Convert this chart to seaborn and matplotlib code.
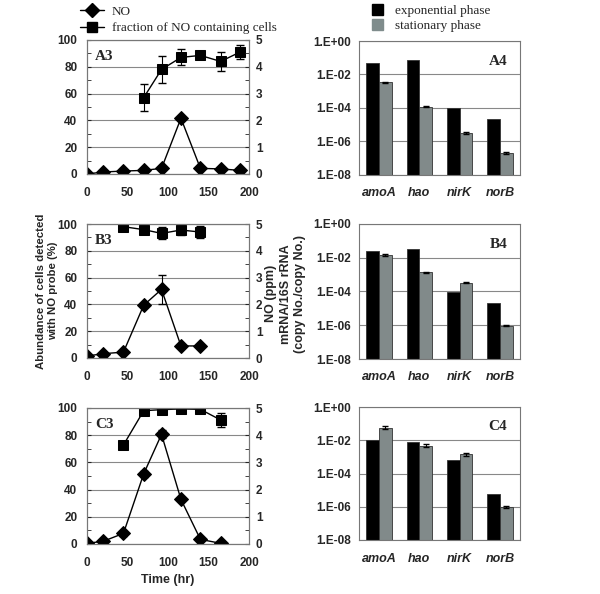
import numpy as np
import pandas as pd
import seaborn as sns
import matplotlib.pyplot as plt
from matplotlib.ticker import MultipleLocator, LogLocator, NullFormatter

# time courses (hr); squares = % cells with NO probe (left axis), diamonds = NO ppm (right axis)
a3_time_no = [0, 20, 45, 70, 92, 116, 140, 165, 189]
a3_no = [0.0, 0.075, 0.11, 0.135, 0.21, 2.08, 0.21, 0.19, 0.135]
a3_no_err = [0, 0, 0, 0, 0, 0.06, 0, 0, 0]
a3_time_frac = [70, 92, 116, 140, 165, 189]
a3_frac = [57, 78, 87, 88.5, 84, 91]
a3_frac_err = [10, 10, 6, 2, 7, 5]

b3_time_no = [0, 20, 45, 70, 92, 116, 140]
b3_no = [0.075, 0.16, 0.22, 1.97, 2.56, 0.45, 0.45]
b3_no_err = [0, 0, 0, 0.06, 0.55, 0, 0]
b3_time_frac = [45, 70, 92, 116, 140]
b3_frac = [98, 95.8, 93, 95.5, 94]
b3_frac_err = [0, 1, 4.5, 3.5, 4.5]

c3_time_no = [0, 20, 45, 70, 92, 116, 140, 165]
c3_no = [0.025, 0.1, 0.39, 2.58, 4.03, 1.64, 0.17, 0.025]
c3_no_err = [0, 0, 0.1, 0.1, 0.15, 0, 0, 0]
c3_time_frac = [45, 70, 92, 116, 140, 165]
c3_frac = [72.8, 98, 98.8, 99.3, 99, 91.2]
c3_frac_err = [0, 0, 0, 0, 0, 5]

# gene expression, mRNA/16S rRNA
genes = ['amoA', 'hao', 'nirK', 'norB']
phases = ['exponential phase', 'stationary phase']
a4_exp = [5.0e-2, 7.8e-2, 1.0e-4, 2.3e-5]
a4_stat = [3.5e-3, 1.2e-4, 3.3e-6, 2.1e-7]
a4_stat_err = [2e-4, 5e-6, 4e-7, 3e-8]
b4_exp = [2.6e-2, 3.3e-2, 9.5e-5, 2.2e-5]
b4_stat = [1.5e-2, 1.35e-3, 3.4e-4, 9.5e-7]
b4_stat_err = [1.5e-3, 1e-4, 1e-5, 3e-8]
c4_exp = [1.1e-2, 8.0e-3, 6.9e-4, 5.8e-6]
c4_stat = [5.8e-2, 4.8e-3, 1.45e-3, 1.0e-6]
c4_stat_err = [1.2e-2, 8e-4, 2.5e-4, 1.5e-7]

sns.set_style('white')
plt.rcParams['font.family'] = ['Liberation Sans', 'DejaVu Sans']

fig = plt.figure(figsize=(6, 5.94), dpi=100)
H = 594.0


def box(x0, y0, x1, y1):
    return [x0 / 600, 1 - y1 / H, (x1 - x0) / 600, (y1 - y0) / H]


def px(x, y):
    return x / 600, 1 - y / H


serif = ['Liberation Serif', 'DejaVu Serif']


def time_panel(rect, label, t_no, no, no_err, t_fr, fr, fr_err):
    ax = fig.add_axes(rect)
    ax2 = ax.twinx()
    sns.lineplot(x=t_fr, y=fr, ax=ax, color='black', marker='s', markersize=7,
                 linewidth=1, markeredgecolor='black')
    ax.errorbar(t_fr, fr, yerr=fr_err, fmt='none', ecolor='black', elinewidth=0.8, capsize=3)
    sns.lineplot(x=t_no, y=no, ax=ax2, color='black', marker='D', markersize=7,
                 linewidth=1, markeredgecolor='black')
    ax2.errorbar(t_no, no, yerr=no_err, fmt='none', ecolor='black', elinewidth=0.8, capsize=3)
    ax.set_xlim(0, 200)
    ax.set_ylim(0, 100)
    ax2.set_ylim(0, 5)
    ax.set_yticks(np.arange(0, 101, 20))
    ax2.set_yticks(np.arange(0, 6, 1))
    ax.set_xticks([0, 50, 100, 150, 200])
    ax.xaxis.set_minor_locator(MultipleLocator(10))
    ax.yaxis.set_minor_locator(MultipleLocator(10))
    ax2.yaxis.set_minor_locator(MultipleLocator(0.5))
    ax.grid(axis='y', color='#888888', linewidth=0.8)
    for a in (ax, ax2):
        a.tick_params(which='both', direction='in', length=3, labelsize=8.5)
        for s in a.spines.values():
            s.set_color('#777777')
            s.set_linewidth(0.8)
        for t in a.get_xticklabels() + a.get_yticklabels():
            t.set_fontweight('bold')
    ax.tick_params(axis='x', pad=9)
    ax.tick_params(axis='y', pad=7)
    ax2.tick_params(axis='y', pad=5)
    ax.text(0.05, 0.88, label, transform=ax.transAxes, family=serif,
            fontsize=11, fontweight='bold', va='center')
    return ax, ax2


time_panel(box(87, 40, 249, 174), 'A3', a3_time_no, a3_no, a3_no_err,
           a3_time_frac, a3_frac, a3_frac_err)
time_panel(box(87, 224, 249, 358), 'B3', b3_time_no, b3_no, b3_no_err,
           b3_time_frac, b3_frac, b3_frac_err)
axC3, _ = time_panel(box(87, 408, 249, 544), 'C3', c3_time_no, c3_no, c3_no_err,
                     c3_time_frac, c3_frac, c3_frac_err)
axC3.set_xlabel('Time (hr)', fontsize=9, fontweight='bold', labelpad=4)


def gene_panel(rect, label, exp, stat, stat_err):
    ax = fig.add_axes(rect)
    df = pd.DataFrame({'gene': genes * 2,
                       'phase': [phases[0]] * 4 + [phases[1]] * 4,
                       'value': list(exp) + list(stat)})
    ax.set_yscale('log')
    sns.barplot(data=df, x='gene', y='value', hue='phase', ax=ax,
                palette=['black', '#7f8c8c'], width=0.63, errorbar=None,
                edgecolor='#333333', linewidth=0.6, legend=False)
    xs = [p.get_x() + p.get_width() / 2 for p in ax.patches[4:8]]
    ax.errorbar(xs, stat, yerr=stat_err, fmt='none', ecolor='black',
                elinewidth=0.8, capsize=2.5)
    ax.set_ylim(1e-8, 1)
    ax.set_yticks([1e-8, 1e-6, 1e-4, 1e-2, 1])
    ax.set_yticklabels(['1.E-08', '1.E-06', '1.E-04', '1.E-02', '1.E+00'])
    ax.yaxis.set_minor_locator(LogLocator(base=10, subs=np.arange(2, 10)))
    ax.yaxis.set_minor_formatter(NullFormatter())
    ax.grid(axis='y', which='major', color='#888888', linewidth=0.8)
    ax.set_axisbelow(True)
    ax.set_xlabel('')
    ax.set_ylabel('')
    ax.tick_params(which='both', direction='in', length=3, labelsize=8.5)
    ax.tick_params(axis='y', pad=6)
    ax.tick_params(axis='x', length=0, pad=9)
    for s in ax.spines.values():
        s.set_color('#777777')
        s.set_linewidth(0.8)
    for t in ax.get_yticklabels():
        t.set_fontweight('bold')
    for t in ax.get_xticklabels():
        t.set_fontweight('bold')
        t.set_fontstyle('italic')
        t.set_fontsize(9)
    ax.text(0.92, 0.85, label, transform=ax.transAxes, family=serif,
            fontsize=11, fontweight='bold', ha='right', va='center')
    return ax


gene_panel(box(359, 41, 520, 175), 'A4', a4_exp, a4_stat, a4_stat_err)
gene_panel(box(359, 224, 520, 359), 'B4', b4_exp, b4_stat, b4_stat_err)
gene_panel(box(359, 407, 520, 540), 'C4', c4_exp, c4_stat, c4_stat_err)

# shared y labels
fig.text(*px(47, 291), 'Abundance of cells detected\nwith NO probe (%)', rotation=90,
         ha='center', va='center', fontsize=8.2, fontweight='bold', linespacing=1.15)
fig.text(*px(271, 293), 'NO (ppm)', rotation=90, ha='center', va='center',
         fontsize=9, fontweight='bold')
fig.text(*px(293, 294), 'mRNA/16S rRNA\n(copy No./copy No.)', rotation=90,
         ha='center', va='center', fontsize=9, fontweight='bold', linespacing=1.15)

# legends
fig.legend(handles=[plt.Line2D([], [], color='black', marker='D', markersize=7, lw=1),
                    plt.Line2D([], [], color='black', marker='s', markersize=7, lw=1)],
           labels=['NO', 'fraction of NO containing cells'],
           loc='upper left', bbox_to_anchor=(75 / 600, 0.999), frameon=False,
           prop={'family': serif, 'size': 9.5}, handlelength=1.8,
           handletextpad=0.6, labelspacing=0.3, borderaxespad=0)
fig.legend(handles=[plt.Rectangle((0, 0), 1, 1, color='black'),
                    plt.Rectangle((0, 0), 1, 1, color='#7f8c8c')],
           labels=phases, loc='upper left', bbox_to_anchor=(367 / 600, 1.002),
           frameon=False, prop={'family': serif, 'size': 9.5}, handlelength=0.8,
           handleheight=0.9, handletextpad=0.9, labelspacing=0.15, borderaxespad=0)

fig.savefig('out.png', dpi=100)
